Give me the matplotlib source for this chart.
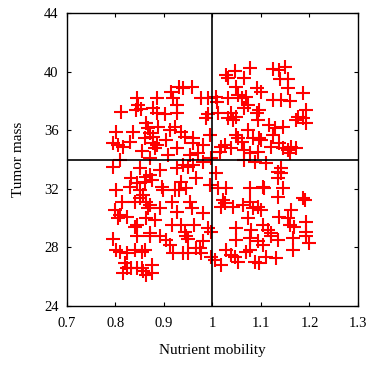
import matplotlib
matplotlib.use("Agg")
import matplotlib.pyplot as plt
import numpy as np

plt.rcParams['font.family'] = ['Liberation Serif', 'DejaVu Serif']

# nutrient mobility / tumor mass pairs
mobility = [
    0.844, 0.886, 0.914, 0.919, 0.847, 0.852, 0.842, 0.878, 0.885, 0.811, 0.902, 0.927, 0.926,
    1.029, 1.046, 1.077, 1.066, 1.032, 1.049, 1.091, 0.932, 0.939, 0.957, 0.977, 0.991, 1.008,
    1.010, 1.032, 1.053, 1.060, 1.070, 1.073, 1.066, 1.011, 1.039, 1.091, 0.991,
    1.124, 1.137, 1.150, 1.139, 1.155, 1.155, 1.186, 1.124, 1.142, 1.159, 1.100, 1.193, 1.097, 1.176,
    0.802, 0.837, 0.864, 0.868, 0.871, 0.888, 0.912, 0.923, 0.795, 0.806, 0.816, 0.830, 0.861,
    0.878, 0.878, 0.885, 0.905, 0.881, 0.854, 0.809, 0.871, 0.909, 0.795, 0.850, 0.892, 0.926,
    0.871, 0.926,
    0.987, 1.032, 1.042, 1.049, 1.073, 1.049, 1.053, 1.060, 1.084, 0.936, 0.943, 0.960, 0.960,
    0.994, 0.981, 1.018, 1.025, 1.039, 1.015, 1.066, 1.077, 0.953, 0.970, 0.998, 0.939, 0.950,
    0.960, 0.981, 1.008, 1.066, 1.087,
    1.093, 1.117, 1.128, 1.145, 1.172, 1.186, 1.193, 1.124, 1.097, 1.100, 1.121, 1.138, 1.145,
    1.155, 1.162, 1.172, 1.159, 1.093, 1.111, 1.142, 1.135, 1.142,
    0.833, 0.844, 0.830, 0.864, 0.875, 0.861, 0.895, 0.899, 0.923, 0.802, 0.850, 0.857, 0.850,
    0.864, 0.871, 0.868, 0.813, 0.840, 0.892, 0.916, 0.799, 0.806, 0.809, 0.823, 0.864, 0.881,
    0.844, 0.840, 0.871, 0.916, 0.926,
    0.936, 0.946, 0.932, 0.967, 0.994, 1.011, 1.029, 1.077, 0.953, 0.957, 0.981, 1.022, 1.025,
    1.018, 1.042, 1.063, 1.077, 1.084, 0.936, 0.963, 0.943, 0.991, 0.998, 1.049, 1.073, 1.080,
    1.135, 1.104, 1.107, 1.145, 1.135, 1.186, 1.190, 1.093, 1.100, 1.162, 1.138, 1.155, 1.159,
    1.169, 1.193, 1.104, 1.114, 1.121, 1.193,
    0.795, 0.844, 0.871, 0.892, 0.905, 0.912, 0.919, 0.802, 0.809, 0.823, 0.840, 0.854, 0.861,
    0.820, 0.823, 0.833, 0.844, 0.854, 0.816, 0.857, 0.864, 0.875, 0.875,
    0.946, 0.950, 0.981, 0.974, 0.967, 0.977, 0.939, 0.950, 0.998, 1.005, 1.018, 1.029, 1.049,
    1.077, 1.039, 1.046, 1.053, 1.070, 1.077, 1.087,
    1.093, 1.104, 1.097, 1.111, 1.131, 1.121, 1.135, 1.166, 1.166, 1.193, 1.200,
]
mass = [
    38.17, 38.22, 38.63, 38.22, 37.72, 37.45, 37.38, 37.49, 37.15, 37.27, 37.08, 37.72, 37.15,
    39.77, 40.04, 40.22, 39.58, 39.54, 38.97, 38.86, 38.97, 38.86, 38.93, 38.22, 38.18, 38.29,
    37.95, 38.22, 38.40, 38.18, 38.29, 37.72, 37.49, 37.15, 37.15, 37.15, 37.08,
    40.18, 40.11, 40.33, 39.49, 39.49, 38.86, 38.52, 38.06, 38.06, 37.99, 38.63, 37.38, 37.38, 36.93,
    35.90, 35.90, 36.47, 36.13, 35.79, 36.24, 36.02, 36.24, 35.11, 34.99, 34.88, 35.22, 35.45,
    35.56, 35.11, 34.99, 35.34, 34.77, 34.59, 33.97, 34.09, 34.31, 33.52, 33.40, 33.29, 33.40,
    32.95, 34.77,
    36.81, 36.81, 36.70, 36.93, 36.02, 35.68, 35.45, 35.22, 35.45, 35.90, 35.56, 35.45, 35.11,
    35.68, 34.99, 34.88, 34.99, 34.77, 34.54, 34.65, 34.43, 34.31, 34.43, 34.09, 33.63, 33.52,
    33.63, 33.86, 33.06, 33.97, 33.86,
    36.70, 36.36, 36.13, 36.24, 36.70, 36.81, 36.47, 35.68, 35.45, 35.34, 34.88, 35.11, 34.77,
    34.65, 34.88, 34.77, 34.43, 34.54, 33.74, 33.40, 33.18, 33.06,
    32.71, 32.37, 32.14, 32.83, 32.60, 32.49, 32.14, 31.92, 31.92, 31.92, 31.92, 31.58, 31.35,
    31.12, 30.90, 30.67, 31.12, 31.12, 30.67, 31.12, 30.55, 29.99, 30.21, 30.10, 29.99, 29.87,
    29.53, 29.42, 28.96, 29.53, 30.44,
    32.49, 32.03, 31.92, 32.71, 32.26, 32.03, 32.03, 32.03, 31.12, 30.67, 30.33, 31.24, 31.01,
    30.78, 30.78, 30.90, 31.12, 30.67, 29.53, 29.53, 29.08, 29.30, 29.08, 29.30, 29.99, 29.19,
    32.71, 32.14, 32.03, 32.03, 31.46, 31.35, 31.24, 30.78, 30.55, 30.55, 30.10, 29.99, 29.53,
    29.42, 29.76, 29.53, 29.19, 28.96, 29.08,
    28.58, 28.74, 28.74, 28.74, 28.51, 28.17, 27.60, 27.83, 27.71, 27.60, 27.83, 27.71, 27.83,
    26.92, 26.58, 26.58, 26.58, 26.58, 26.24, 26.35, 26.12, 26.24, 26.80,
    28.74, 28.58, 28.40, 27.94, 27.94, 27.60, 27.60, 27.60, 27.37, 27.15, 26.80, 27.83, 28.51,
    28.62, 27.49, 27.37, 27.03, 27.71, 27.83, 27.03,
    28.40, 28.17, 26.92, 27.37, 27.26, 28.74, 28.51, 28.62, 27.83, 28.74, 28.28,
]

x_ref = 1.0
y_ref = 34.0

fig = plt.figure(figsize=(3.74, 3.65), dpi=100)
ax = fig.add_axes([0.179, 0.162, 0.778, 0.802])

ax.plot(mobility, mass, '+', color='red', markersize=9.5, markeredgewidth=1.5)
ax.axvline(x_ref, color='black', lw=1.2)
ax.axhline(y_ref, color='black', lw=1.2)

ax.set_xlim(0.7, 1.3)
ax.set_ylim(24, 44)
ax.set_xticks(np.arange(0.7, 1.31, 0.1))
ax.set_xticklabels(['0.7', '0.8', '0.9', '1', '1.1', '1.2', '1.3'])
ax.set_yticks(range(24, 45, 4))
ax.tick_params(direction='in', top=True, right=True, labelsize=10.5, length=3)
ax.tick_params(axis='x', pad=8)
ax.tick_params(axis='y', pad=6)
ax.set_xlabel('Nutrient mobility', fontsize=11, labelpad=10)
ax.set_ylabel('Tumor mass', fontsize=11, labelpad=14)
for s in ax.spines.values():
    s.set_linewidth(1.0)

fig.savefig('out.png', dpi=100)
